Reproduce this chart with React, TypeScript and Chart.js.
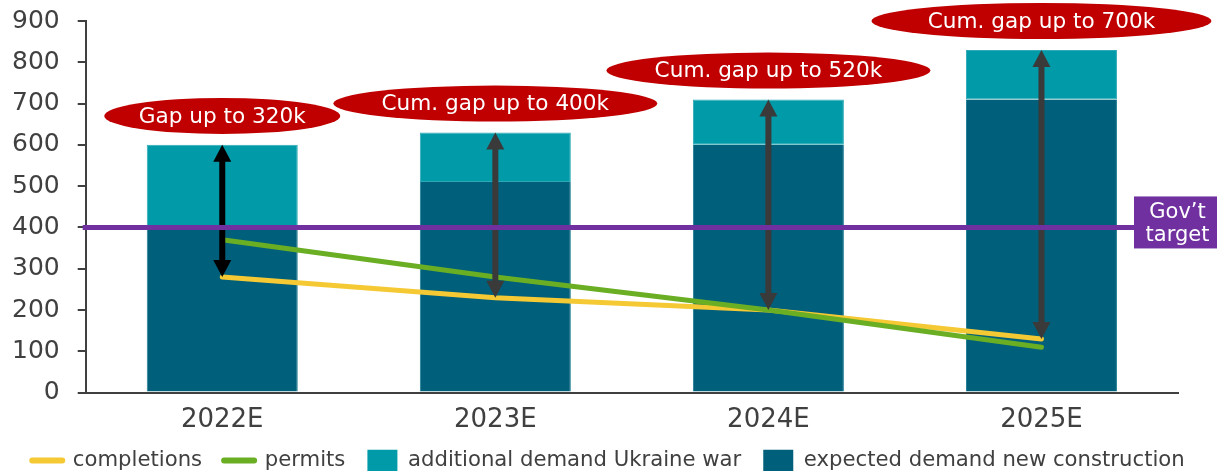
import React, { useEffect, useRef } from 'react';
import { Chart, registerables } from 'chart.js';

Chart.register(...registerables);

const categories = ['2022E', '2023E', '2024E', '2025E'];
const expectedDemand = [400, 510, 600, 710];
const additionalDemand = [200, 120, 110, 120];
const completions = [280, 230, 200, 130];
const permits = [370, 280, 200, 110];
const govTarget = 400;
const gapLabels = ['Gap up to 320k', 'Cum. gap up to 400k', 'Cum. gap up to 520k', 'Cum. gap up to 700k'];
const yTickValues = [0, 100, 200, 300, 400, 500, 600, 700, 800, 900];

const COLORS = {
  expected: '#005f7a',
  expectedEdge: '#1f7d92',
  additional: '#009aa8',
  additionalEdge: '#2eaab6',
  completions: '#f5c934',
  permits: '#6aae24',
  target: '#7030a0',
  bubble: '#c00000',
  axis: '#404040',
};

const FONT = '"DejaVu Sans", Verdana, sans-serif';

const ellipseRx = [118, 162, 162, 170];

function drawArrow(ctx: CanvasRenderingContext2D, x: number, yTop: number, yBot: number, color: string) {
  const hl = 17;
  const hw = 9;
  ctx.save();
  ctx.strokeStyle = color;
  ctx.fillStyle = color;
  ctx.lineWidth = 6;
  ctx.lineCap = 'butt';
  ctx.beginPath();
  ctx.moveTo(x, yTop + hl - 1);
  ctx.lineTo(x, yBot - hl + 1);
  ctx.stroke();
  ctx.beginPath();
  ctx.moveTo(x, yTop);
  ctx.lineTo(x - hw, yTop + hl);
  ctx.lineTo(x + hw, yTop + hl);
  ctx.closePath();
  ctx.fill();
  ctx.beginPath();
  ctx.moveTo(x, yBot);
  ctx.lineTo(x - hw, yBot - hl);
  ctx.lineTo(x + hw, yBot - hl);
  ctx.closePath();
  ctx.fill();
  ctx.restore();
}

const overlayPlugin = {
  id: 'overlay',
  afterDatasetsDraw(chart: any) {
    const ctx: CanvasRenderingContext2D = chart.ctx;
    const xs = chart.scales.x;
    const ys = chart.scales.y;
    const area = chart.chartArea;

    // arrows
    categories.forEach((_, i) => {
      const x = xs.getPixelForValue(i);
      const top = ys.getPixelForValue(expectedDemand[i] + additionalDemand[i]);
      const bot = ys.getPixelForValue(completions[i]);
      drawArrow(ctx, x, top, bot, i === 0 ? '#000000' : '#3a3a3a');
    });

    // government target line
    const yT = ys.getPixelForValue(govTarget);
    ctx.save();
    ctx.strokeStyle = COLORS.target;
    ctx.lineWidth = 5;
    ctx.beginPath();
    ctx.moveTo(area.left - 3, yT);
    ctx.lineTo(chart.width, yT);
    ctx.stroke();

    // target label box
    const bx = area.right - 44;
    const by = yT - 31;
    ctx.fillStyle = COLORS.target;
    ctx.fillRect(bx, by, chart.width - bx, 52);
    ctx.fillStyle = '#ffffff';
    ctx.font = `21px ${FONT}`;
    ctx.textAlign = 'center';
    ctx.textBaseline = 'alphabetic';
    const cx = bx + (chart.width - bx) / 2 + 2;
    ctx.fillText('Gov\u2019t', cx, by + 22);
    ctx.fillText('target', cx, by + 45);
    ctx.restore();

    // gap bubbles
    categories.forEach((_, i) => {
      const x = xs.getPixelForValue(i);
      const y = ys.getPixelForValue(expectedDemand[i] + additionalDemand[i] + 70);
      ctx.save();
      ctx.fillStyle = COLORS.bubble;
      ctx.beginPath();
      ctx.ellipse(x, y, ellipseRx[i], 18, 0, 0, Math.PI * 2);
      ctx.fill();
      ctx.fillStyle = '#ffffff';
      ctx.font = `21.6px ${FONT}`;
      ctx.textAlign = 'center';
      ctx.textBaseline = 'middle';
      ctx.fillText(gapLabels[i], x, y + 1);
      ctx.restore();
    });
  },
};

export default function App() {
  const canvasRef = useRef<HTMLCanvasElement | null>(null);

  useEffect(() => {
    document.body.style.margin = '0';
    const canvas = canvasRef.current;
    if (!canvas) return;
    const chart = new Chart(canvas, {
      type: 'bar',
      data: {
        labels: categories,
        datasets: [
          {
            type: 'line',
            label: 'completions',
            data: completions,
            borderColor: COLORS.completions,
            backgroundColor: COLORS.completions,
            borderWidth: 5,
            borderCapStyle: 'round',
            pointRadius: 0,
            tension: 0,
            order: 1,
          } as any,
          {
            type: 'line',
            label: 'permits',
            data: permits,
            borderColor: COLORS.permits,
            backgroundColor: COLORS.permits,
            borderWidth: 5,
            borderCapStyle: 'round',
            pointRadius: 0,
            tension: 0,
            order: 0,
          } as any,
          {
            type: 'bar',
            label: 'expected demand new construction',
            data: expectedDemand,
            backgroundColor: COLORS.expected,
            borderColor: COLORS.expectedEdge,
            borderWidth: { top: 0, left: 1, right: 1, bottom: 0 },
            stack: 'demand',
            barPercentage: 0.553,
            categoryPercentage: 1,
            order: 2,
          } as any,
          {
            type: 'bar',
            label: 'additional demand Ukraine war',
            data: additionalDemand,
            backgroundColor: COLORS.additional,
            borderColor: COLORS.additionalEdge,
            borderWidth: { top: 1, left: 1, right: 1, bottom: 1 },
            borderSkipped: false,
            stack: 'demand',
            barPercentage: 0.553,
            categoryPercentage: 1,
            order: 2,
          } as any,
        ],
      },
      options: {
        responsive: false,
        animation: false,
        layout: { padding: { top: 21, right: 0, left: 0, bottom: -7 } },
        plugins: {
          tooltip: { enabled: false },
          legend: {
            position: 'bottom',
            labels: {
              usePointStyle: true,
              pointStyleWidth: 30,
              boxHeight: 22,
              boxWidth: 30,
              padding: 22,
              color: COLORS.axis,
              font: { family: FONT, size: 21.2 },
              generateLabels: () => [
                { text: 'completions', pointStyle: 'line', strokeStyle: COLORS.completions, fillStyle: COLORS.completions, lineWidth: 6, lineCap: 'round', fontColor: COLORS.axis, datasetIndex: 0 },
                { text: 'permits', pointStyle: 'line', strokeStyle: COLORS.permits, fillStyle: COLORS.permits, lineWidth: 6, lineCap: 'round', fontColor: COLORS.axis, datasetIndex: 1 },
                { text: 'additional demand Ukraine war', pointStyle: 'rect', fillStyle: COLORS.additional, strokeStyle: COLORS.additional, lineWidth: 0, fontColor: COLORS.axis, datasetIndex: 3 },
                { text: 'expected demand new construction', pointStyle: 'rect', fillStyle: COLORS.expected, strokeStyle: COLORS.expected, lineWidth: 0, fontColor: COLORS.axis, datasetIndex: 2 },
              ] as any,
            },
          },
        },
        scales: {
          x: {
            grid: { display: false, drawTicks: false },
            border: { display: true, color: COLORS.axis, width: 2 },
            ticks: { color: COLORS.axis, font: { family: FONT, size: 26 }, padding: 12 },
            afterFit: (scale: any) => {
              scale.height -= 20;
            },
          },
          y: {
            min: 0,
            max: 900,
            afterBuildTicks: (scale: any) => {
              scale.ticks = yTickValues.map((v) => ({ value: v }));
            },
            afterFit: (scale: any) => {
              scale.width -= 6;
              scale.paddingTop = 0;
              scale.paddingBottom = 0;
            },
            grid: { display: true, drawOnChartArea: false, drawTicks: true, tickLength: 8, color: COLORS.axis, lineWidth: 2 },
            border: { display: true, color: COLORS.axis, width: 2 },
            ticks: { color: COLORS.axis, font: { family: FONT, size: 25 }, padding: 18 },
          },
          yRightSpace: {
            type: 'linear',
            position: 'right',
            display: true,
            grid: { display: false, drawTicks: false },
            border: { display: false },
            ticks: { display: false },
            afterFit: (scale: any) => {
              scale.width = 39;
              scale.paddingTop = 0;
              scale.paddingBottom = 0;
            },
          },
        },
      },
      plugins: [overlayPlugin],
    });
    return () => chart.destroy();
  }, []);

  return (
    <div style={{ width: 1217, height: 474 }}>
      <canvas ref={canvasRef} width={1217} height={474} style={{ display: 'block' }} />
    </div>
  );
}
